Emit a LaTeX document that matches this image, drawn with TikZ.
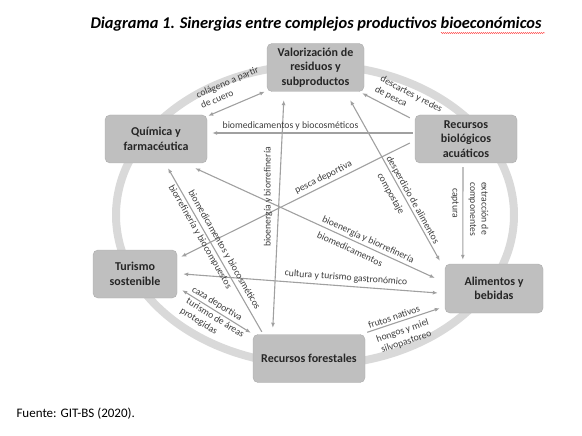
\documentclass[tikz,border=0pt]{standalone}
\usepackage{fontspec}
\setmainfont{Carlito}
\usetikzlibrary{arrows.meta,decorations.pathmorphing}

\definecolor{boxgray}{RGB}{191,191,191}
\definecolor{boxedge}{RGB}{172,172,172}
\definecolor{ringgray}{RGB}{217,217,217}
\definecolor{linkgray}{RGB}{160,160,160}
\definecolor{txtgray}{RGB}{60,60,60}

\tikzset{
  sector/.style={draw=boxedge, fill=boxgray, rounded corners=5pt, minimum height=48pt,
    align=center, inner sep=2pt, text=black!85,
    font=\fontsize{12}{14.5}\selectfont\bfseries},
  link/.style={draw=linkgray, line width=1.1pt, -{Latex[length=5pt,width=4pt]}},
  twoway/.style={link, {Latex[length=5pt,width=4pt]}-{Latex[length=5pt,width=4pt]}},
  lbl/.style={font=\fontsize{9.7}{11.5}\selectfont, text=txtgray, inner sep=0pt},
}

\begin{document}
\begin{tikzpicture}[x=1pt,y=-1pt]
\useasboundingbox (0,0) rectangle (582,436);

% ring behind the sectors
\draw[ringgray, line width=8pt] (315,215) ellipse [x radius=199, y radius=150];

% sectors
\node[sector, minimum width=97pt] (valor) at (315.5,67.5) {Valorización de\\residuos y\\subproductos};
\node[sector, minimum width=102pt] (quimica) at (156,139) {Química y\\farmacéutica};
\node[sector, minimum width=102pt] (acuat) at (466,139) {Recursos\\biológicos\\acuáticos};
\node[sector, minimum width=84pt] (turismo) at (135,274) {Turismo\\sostenible};
\node[sector, minimum width=98pt, minimum height=49pt] (alim) at (494,288.5) {Alimentos y\\bebidas};
\node[sector, minimum width=112pt] (forest) at (309,358.5) {Recursos forestales};

% links
\draw[twoway] ([shift={(1,1)}]quimica.north east) -- ([shift={(-2,0)}]valor.south west);
\draw[link] ([shift={(-5,3)}]acuat.north west) -- ([shift={(-2,1.5)}]valor.south east);
\draw[link] ([shift={(-2,-6)}]acuat.west) -- ([shift={(5,-6)}]quimica.east);
\draw[link] ([shift={(-5,4)}]acuat.west) -- ([shift={(4,7)}]turismo.north east);
\draw[link] ([shift={(-3,4)}]acuat.south) -- ([shift={(18,-4)}]alim.north west);
\draw[twoway] ([shift={(17,8.5)}]valor.south west) -- ([shift={(20,-6.5)}]forest.north west);
\draw[twoway] ([shift={(-14,8.5)}]valor.south east) -- ([shift={(-5,-3)}]alim.north west);
\draw[twoway] ([shift={(-12,5)}]quimica.south east) -- ([shift={(-10,-10.5)}]alim.west);
\draw[twoway] ([shift={(6,0)}]turismo.east) -- ([shift={(-7,4.5)}]alim.west);
\draw[link] ([shift={(9,-2.5)}]forest.north west) -- ([shift={(12,5)}]quimica.south);
\draw[twoway] ([shift={(5,-8)}]turismo.south east) -- ([shift={(-2,-1.5)}]forest.north west);
\draw[link] ([shift={(2,-2)}]forest.north east) -- ([shift={(-5,-5)}]alim.south west);

% labels on the links
\node[lbl, rotate=23, align=left] (colageno) at (229.5,87.5) {colágeno a partir\\de cuero};
\node[lbl, rotate=-27.5, align=left] (descartes) at (408.5,99.5) {descartes y redes\\de pesca};
\node[lbl] (biocosm) at (290.5,125.5) {biomedicamentos y biocosméticos};
\node[lbl, rotate=26.5] (pesca) at (323.5,177.5) {pesca deportiva};
\node[lbl, rotate=-90] (captura) at (455,203) {captura};
\node[lbl, rotate=-90, align=left] (extraccion) at (478.5,209) {extracción de\\componentes};
\node[lbl, rotate=90] (bioenV) at (268,197) {bioenergía y biorrefinería};
\node[lbl, rotate=-60.8] (desperdicio) at (412.5,200) {desperdicio de alimentos};
\node[lbl, rotate=-60.8] (compost) at (390.5,194) {compostaje};
\node[lbl, rotate=-24.6] (bioenQ) at (368,240) {bioenergía y biorrefinería};
\node[lbl, rotate=-24.6] (biomedQ) at (350,249) {biomedicamentos};
\node[lbl, rotate=-4.3] (cultura) at (346,278) {cultura y turismo gastronómico};
\node[lbl, rotate=-60.2] (biorref) at (200,237) {biorrefinería y biocompuestos};
\node[lbl, rotate=-60.2] (biomedF) at (224,250) {biomedicamentos y biocosméticos};
\node[lbl, rotate=-32] (caza) at (217,304) {caza deportiva};
\node[lbl, rotate=-32, align=left] (areas) at (212,323) {turismo de áreas\\protegidas};
\node[lbl, rotate=19] (frutos) at (394,317) {frutos nativos};
\node[lbl, rotate=19, align=center] (hongos) at (404.5,336.5) {hongos y miel\\silvopastoreo};

% title and source
\node[font=\fontsize{16.4}{19}\selectfont\bfseries\itshape, anchor=base] (title) at (316,29)
  {Diagrama 1. Sinergias entre complejos productivos bioeconómicos};
\draw[red!80, line width=0.4pt, decorate, decoration={snake, amplitude=0.6pt, segment length=2pt}]
  ([shift={(-104,4)}]title.base east) -- ([shift={(0,4)}]title.base east);
\node[font=\fontsize{13}{16}\selectfont, anchor=base west] (fuente) at (13,417) {Fuente: GIT-BS (2020).};
\end{tikzpicture}
\end{document}
